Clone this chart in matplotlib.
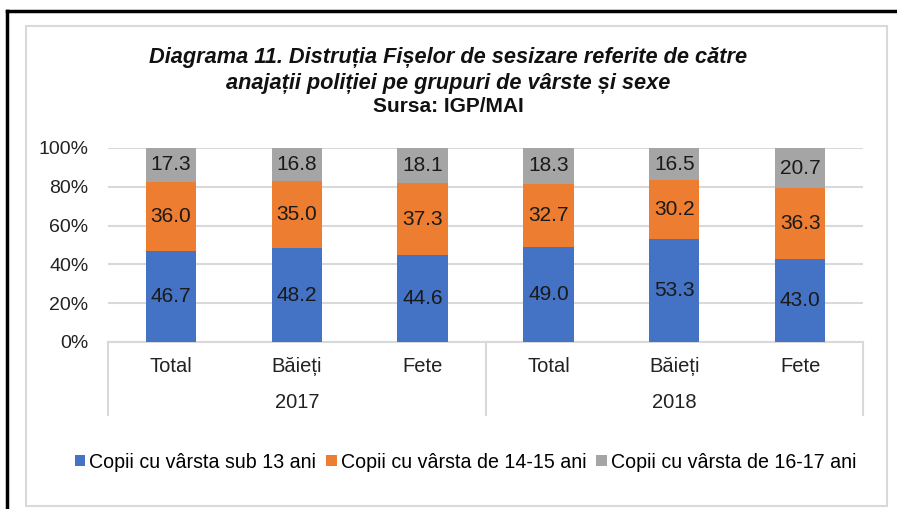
import matplotlib.pyplot as plt
import numpy as np
from matplotlib.patches import Rectangle
from matplotlib.lines import Line2D

plt.rcParams['font.family'] = ['Liberation Sans', 'DejaVu Sans']

categories = ['Total', 'Băieți', 'Fete', 'Total', 'Băieți', 'Fete']
years = ['2017', '2018']
sub13 = [46.7, 48.2, 44.6, 49.0, 53.3, 43.0]
de14_15 = [36.0, 35.0, 37.3, 32.7, 30.2, 36.3]
de16_17 = [17.3, 16.8, 18.1, 18.3, 16.5, 20.7]
series_names = ['Copii cu vârsta sub 13 ani', 'Copii cu vârsta de 14-15 ani',
                'Copii cu vârsta de 16-17 ani']
colors = ['#4472C4', '#ED7D31', '#A5A5A5']
title_lines = ['Diagrama 11. Distruția Fișelor de sesizare referite de către',
               'anajații poliției pe grupuri de vârste și sexe']
source = 'Sursa: IGP/MAI'

W, H = 897, 509
fig = plt.figure(figsize=(W / 100, H / 100), dpi=100)

# borders: black outer frame, light gray chart frame
fig.add_artist(Line2D([7 / W, 7 / W], [0, 1 - 11 / H], color='black', lw=2.5))
fig.add_artist(Line2D([7 / W, 1], [1 - 11 / H, 1 - 11 / H], color='black', lw=2.5))
fig.add_artist(Rectangle((26 / W, 1 - 506 / H), (887 - 26) / W, (506 - 26) / H,
                         fill=False, edgecolor='#D9D9D9', lw=1.5))

for ty, line in zip([58, 83], title_lines):
    fig.text(0.5, 1 - ty / H, line, ha='center', va='center', fontsize=15.7,
             fontweight='bold', fontstyle='italic', color='#111111')
fig.text(0.5, 1 - 107 / H, source, ha='center', va='center',
         fontsize=15, fontweight='bold', color='#111111')

ax = fig.add_axes([108 / W, (H - 342) / H, 755 / W, 194 / H])
x = np.arange(len(categories))
data = [sub13, de14_15, de16_17]
bottom = np.zeros(len(categories))
for vals, col, name in zip(data, colors, series_names):
    vals = np.array(vals)
    ax.bar(x, vals, 0.4, bottom=bottom, color=col, label=name, zorder=3)
    for xi, b, v in zip(x, bottom, vals):
        ax.text(xi, b + v / 2, f'{v:.1f}', ha='center', va='center',
                fontsize=15, color='#1a1a1a', zorder=4)
    bottom += vals

ax.set_xlim(-0.5, len(categories) - 0.5)
ax.set_ylim(0, 100)
ax.set_yticks(np.arange(0, 101, 20))
ax.set_yticklabels([f'{v}%' for v in range(0, 101, 20)], fontsize=14, color='#222222')
ax.yaxis.grid(True, color='#D9D9D9', lw=1.5, zorder=0)
ax.tick_params(axis='y', length=0, pad=14)
ax.set_xticks(x)
ax.set_xticklabels(categories, fontsize=14.5, color='#222222')
ax.tick_params(axis='x', length=0, pad=11)
for s in ['top', 'right', 'left']:
    ax.spines[s].set_visible(False)
ax.spines['bottom'].set_color('#D9D9D9')
ax.spines['bottom'].set_linewidth(1.5)

# year group separators and labels
tr = ax.get_xaxis_transform()
depth = (415 - 342) / 194
for sx in [-0.5, 2.5, 5.5]:
    ax.plot([sx, sx], [0, -depth], color='#D9D9D9', lw=1.5, transform=tr, clip_on=False)
for i, yr in enumerate(years):
    ax.text(1 + 3 * i, -(403 - 342) / 194, yr, ha='center', va='center',
            fontsize=14.5, color='#222222', transform=tr)

handles, labels = ax.get_legend_handles_labels()
fig.legend(handles, labels, loc='center', bbox_to_anchor=(0.519, 1 - 462 / H), ncol=3,
           frameon=False, fontsize=14.1, handlelength=0.55, handleheight=0.55,
           handletextpad=0.2, columnspacing=0.5)

fig.savefig('out.png', dpi=100)
